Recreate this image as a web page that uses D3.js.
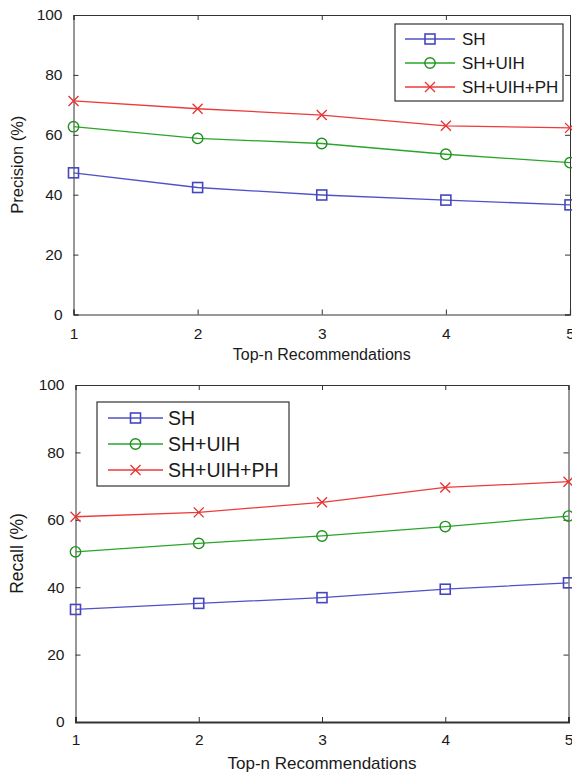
<!DOCTYPE html>
<html>
<head>
<meta charset="utf-8">
<script src="https://cdn.jsdelivr.net/npm/d3@7/dist/d3.min.js"></script>
<style>
  html, body { margin: 0; padding: 0; background: #fff; }
  svg { display: block; }
  text { font-family: "Liberation Sans", Arial, Helvetica, sans-serif; fill: #1a1a1a; }
</style>
</head>
<body>
<svg id="chart" width="572" height="775"></svg>
<script>
// Top-n recommendation sizes (x axis)
const topN = [1, 2, 3, 4, 5];
const seriesNames = ["SH", "SH+UIH", "SH+UIH+PH"];
const yTicks = [0, 20, 40, 60, 80, 100];

// Precision (%) per method
const precisionSH = [47.3, 42.4, 39.9, 38.2, 36.6];
const precisionUIH = [62.7, 58.8, 57.1, 53.5, 50.7];
const precisionPH = [71.3, 68.7, 66.6, 63.0, 62.3];

// Recall (%) per method
const recallSH = [33.4, 35.2, 36.9, 39.4, 41.3];
const recallUIH = [50.5, 53.0, 55.2, 58.0, 61.1];
const recallPH = [60.9, 62.2, 65.2, 69.6, 71.3];

const colors = ["#5050c8", "#2aa52a", "#ee3a3a"];
const markerColors = ["#4646c0", "#1f8f1f", "#e83030"];
const markers = ["square", "circle", "cross"];

const svg = d3.select("#chart");

function drawMarker(g, type, x, y, color) {
  if (type === "square") {
    g.append("rect").attr("x", x - 5).attr("y", y - 5).attr("width", 10).attr("height", 10)
      .attr("fill", "none").attr("stroke", color).attr("stroke-width", 1.6);
  } else if (type === "circle") {
    g.append("circle").attr("cx", x).attr("cy", y).attr("r", 5.2)
      .attr("fill", "none").attr("stroke", color).attr("stroke-width", 1.4);
  } else {
    g.append("path")
      .attr("d", `M${x - 5},${y - 5}L${x + 5},${y + 5}M${x - 5},${y + 5}L${x + 5},${y - 5}`)
      .attr("fill", "none").attr("stroke", color).attr("stroke-width", 1.3);
  }
}

function drawPanel(cfg) {
  const x = d3.scaleLinear().domain([1, 5]).range([cfg.left, cfg.right]);
  const y = d3.scaleLinear().domain([0, 100]).range([cfg.bottom, cfg.top]);
  const g = svg.append("g");

  // Box with inward ticks on all four sides
  const axisColor = "#333";
  g.append("g").attr("transform", `translate(0,${cfg.bottom})`)
    .call(d3.axisBottom(x).tickValues(topN).tickSize(-5).tickPadding(cfg.xTickPad).tickFormat(d3.format("d")))
    .call(a => a.select(".domain").attr("stroke", axisColor).attr("stroke-width", cfg.axisWidth))
    .call(a => a.selectAll("line").attr("stroke", axisColor))
    .call(a => a.selectAll("text").attr("font-size", 15.5).attr("fill", "#1a1a1a")
      .attr("font-family", "Liberation Sans, Arial, sans-serif"));
  g.append("g").attr("transform", `translate(0,${cfg.top})`)
    .call(d3.axisTop(x).tickValues(topN).tickSize(-5).tickFormat(""))
    .call(a => a.select(".domain").attr("stroke", axisColor).attr("stroke-width", 1))
    .call(a => a.selectAll("line").attr("stroke", axisColor));
  g.append("g").attr("transform", `translate(${cfg.left},0)`)
    .call(d3.axisLeft(y).tickValues(yTicks).tickSize(-5).tickPadding(11))
    .call(a => a.select(".domain").attr("stroke", axisColor).attr("stroke-width", 1))
    .call(a => a.selectAll("line").attr("stroke", axisColor))
    .call(a => a.selectAll("text").attr("font-size", 15.5).attr("fill", "#1a1a1a")
      .attr("font-family", "Liberation Sans, Arial, sans-serif"));
  g.append("g").attr("transform", `translate(${cfg.right},0)`)
    .call(d3.axisRight(y).tickValues(yTicks).tickSize(-5).tickFormat(""))
    .call(a => a.select(".domain").attr("stroke", axisColor).attr("stroke-width", 1))
    .call(a => a.selectAll("line").attr("stroke", axisColor));

  // Series lines and markers
  const line = d3.line().x((d, i) => x(topN[i])).y(d => y(d));
  cfg.series.forEach((vals, s) => {
    g.append("path").datum(vals).attr("d", line)
      .attr("fill", "none").attr("stroke", colors[s]).attr("stroke-width", 1.3);
    vals.forEach((v, i) => drawMarker(g, markers[s], x(topN[i]), y(v), markerColors[s]));
  });

  // Axis titles
  g.append("text").attr("x", (cfg.left + cfg.right) / 2).attr("y", cfg.xTitleY)
    .attr("text-anchor", "middle").attr("font-size", cfg.xTitleSize).text("Top-n Recommendations");
  g.append("text")
    .attr("transform", `translate(${cfg.yTitleX},${(cfg.top + cfg.bottom) / 2 + cfg.yTitleShift}) rotate(-90)`)
    .attr("text-anchor", "middle").attr("font-size", cfg.yTitleSize).text(cfg.yTitle);

  // Legend
  const L = cfg.legend;
  const lg = g.append("g");
  lg.append("rect").attr("x", L.x).attr("y", L.y).attr("width", L.w).attr("height", L.h)
    .attr("fill", "#fff").attr("stroke", "#333").attr("stroke-width", 1.2);
  seriesNames.forEach((name, s) => {
    const ry = L.y + L.first + s * L.step;
    lg.append("line").attr("x1", L.x + L.lineStart).attr("x2", L.x + L.lineStart + L.lineLen)
      .attr("y1", ry).attr("y2", ry).attr("stroke", colors[s]).attr("stroke-width", 1.3);
    drawMarker(lg, markers[s], L.x + L.lineStart + L.lineLen / 2, ry, markerColors[s]);
    lg.append("text").attr("x", L.x + L.textStart).attr("y", ry).attr("dy", "0.36em")
      .attr("font-size", L.fontSize).text(name);
  });
}

drawPanel({
  left: 73.5, right: 570, top: 15, bottom: 314.5, axisWidth: 1.2, xTickPad: 13,
  series: [precisionSH, precisionUIH, precisionPH],
  yTitle: "Precision (%)", yTitleX: 23, yTitleShift: 0, yTitleSize: 16.5,
  xTitleY: 360, xTitleSize: 16,
  legend: { x: 395, y: 24, w: 168, h: 77, first: 15, step: 24, lineStart: 10, lineLen: 50,
            textStart: 67, fontSize: 17 }
});

drawPanel({
  left: 75.5, right: 568.5, top: 385, bottom: 722, axisWidth: 2, xTickPad: 12,
  series: [recallSH, recallUIH, recallPH],
  yTitle: "Recall (%)", yTitleX: 23, yTitleShift: 0, yTitleSize: 17.5,
  xTitleY: 769, xTitleSize: 17,
  legend: { x: 97, y: 402, w: 192, h: 84, first: 16, step: 26, lineStart: 11, lineLen: 55,
            textStart: 71, fontSize: 19.5 }
});
</script>
</body>
</html>
